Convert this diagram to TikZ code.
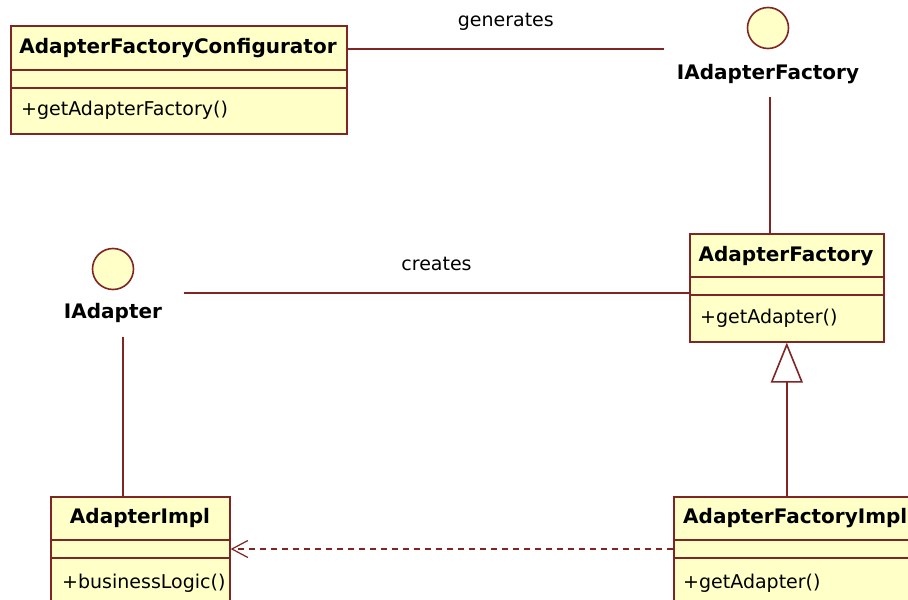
\documentclass[tikz,border=0pt]{standalone}
\usepackage{fontspec}
\setmainfont{DejaVu Sans}
\usetikzlibrary{arrows.meta}
\definecolor{umlline}{RGB}{128,36,36}
\definecolor{umlfill}{RGB}{255,255,200}
\tikzset{
	classbox/.style={draw=umlline, fill=umlfill, line width=1.6bp, inner sep=0pt, anchor=north west},
	iface/.style={circle, draw=umlline, fill=umlfill, line width=1.6bp, inner sep=0pt, minimum size=41bp},
	title/.style={font=\bfseries\fontsize{20bp}{24bp}\selectfont, inner sep=0pt, anchor=base},
	member/.style={font=\fontsize{19bp}{23bp}\selectfont, inner sep=0pt, anchor=base west},
	assoc/.style={draw=umlline, line width=1.6bp},
	gen/.style={assoc, -{Triangle[open, length=40bp, width=32bp]}},
	dep/.style={assoc, dash pattern=on 6bp off 5bp, -{Straight Barb[length=16bp, width=17bp, line width=1.2bp]}},
	linelabel/.style={font=\fontsize{19bp}{23bp}\selectfont, inner sep=0pt, anchor=base, midway, yshift=22bp}
}

\begin{document}
\begin{tikzpicture}[x=1bp, y=-1bp]
			%%%%% START %%%%%
			
			\useasboundingbox (0, 0) rectangle (908, 600);
			\clip (0, 0) rectangle (908, 600);
			\fill[white] (0, 0) rectangle (908, 600);
			
			% AdapterFactoryConfigurator
			\node[classbox, minimum width=336bp, minimum height=108bp] (cfg) at (10, 25) {};
			\draw[assoc] (10, 70) -- (346, 70);
			\draw[assoc] (10, 88) -- (346, 88);
			\node[title] (cfgname) at (178, 54) {AdapterFactoryConfigurator};
			\node[member] (cfgop) at (21, 116) {+getAdapterFactory()};
			
			% IAdapterFactory
			\node[iface] (ifac) at (768, 28) {};
			\node[title] (ifaclbl) at (768, 80) {IAdapterFactory};
			
			% AdapterFactory
			\node[classbox, minimum width=194bp, minimum height=108bp] (af) at (689, 233) {};
			\draw[assoc] (689, 277) -- (883, 277);
			\draw[assoc] (689, 295) -- (883, 295);
			\node[title] (afname) at (786, 262) {AdapterFactory};
			\node[member] (afop) at (700, 323) {+getAdapter()};
			
			% IAdapter
			\node[iface] (iad) at (113, 269) {};
			\node[title] (iadlbl) at (113, 318) {IAdapter};
			
			% AdapterImpl
			\node[classbox, minimum width=179bp, minimum height=130bp] (ai) at (50, 496) {};
			\draw[assoc] (50, 540) -- (229, 540);
			\draw[assoc] (50, 558) -- (229, 558);
			\node[title] (ainame) at (140, 523) {AdapterImpl};
			\node[member] (aiop) at (62, 588) {+businessLogic()};
			
			% AdapterFactoryImpl
			\node[classbox, minimum width=260bp, minimum height=130bp] (afi) at (673, 496) {};
			\draw[assoc] (673, 540) -- (933, 540);
			\draw[assoc] (673, 558) -- (933, 558);
			\node[title, anchor=base west] (afiname) at (683, 523) {AdapterFactoryImpl};
			\node[member] (afiop) at (683, 588) {+getAdapter()};
			
			% connectors
			\coordinate (genend) at (664, 49);
			\coordinate (ifacend) at (770, 97);
			\coordinate (crstart) at (184, 293);
			\coordinate (iadend) at (123, 337);
			\coordinate (depy) at (0, 549);
			
			\draw[assoc] (cfg.east |- genend) -- node[linelabel] {generates} (genend);
			\draw[assoc] (ifacend) -- (ifacend |- af.north);
			\draw[assoc] (crstart) -- node[linelabel] {creates} (crstart -| af.west);
			\draw[assoc] (iadend) -- (iadend |- ai.north);
			\draw[gen] (af.south |- afi.north) -- (af.south);
			\draw[dep] (afi.west |- depy) -- (ai.east |- depy);
			
			%%%%% END %%%%%
		\end{tikzpicture}
\end{document}
